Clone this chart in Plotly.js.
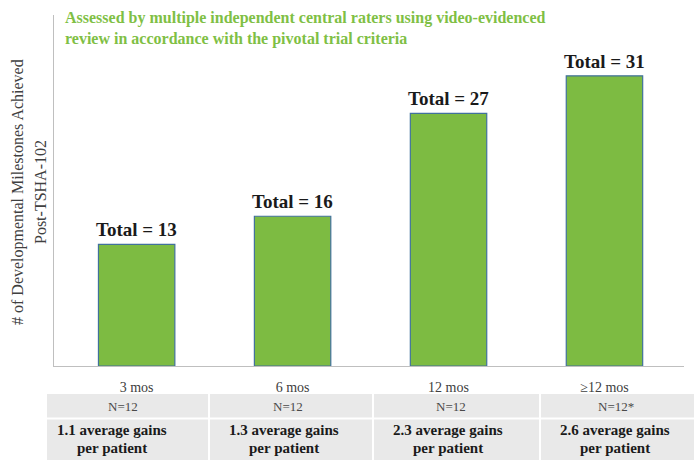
<!DOCTYPE html>
<html>
<head>
<meta charset="utf-8">
<script src="https://cdn.plot.ly/plotly-3.0.1.min.js"></script>
<style>html,body{margin:0;padding:0;background:#fff;}#chart{width:694px;height:460px;}</style>
</head>
<body>
<div id="chart"></div>
<script>
// ---- data ----
const categories = ['3 mos', '6 mos', '12 mos', '≥12 mos'];
const totals = [13, 16, 27, 31];
const nLabels = ['N=12', 'N=12', 'N=12', 'N=12*'];
const avgGains = [1.1, 1.3, 2.3, 2.6];

// ---- layout helpers (pixel geometry of the figure) ----
const W = 694, H = 460;
const M = {l: 54, r: 10, t: 15, b: 94};
const PW = W - M.l - M.r, PH = H - M.t - M.b;
const px = x => (x - M.l) / PW;
const py = y => (H - M.b - y) / PH;

const serif = 'Liberation Serif, Times New Roman, serif';
const green = '#7dbb42';

const trace = {
  type: 'bar',
  x: categories,
  y: totals,
  width: 0.49,
  marker: {color: green, line: {color: '#41719c', width: 1.2}},
  hoverinfo: 'skip'
};

const annotations = [];
categories.forEach((c, i) => {
  annotations.push({
    x: c, y: totals[i], xref: 'x', yref: 'y',
    text: '<b>Total = ' + totals[i] + '</b>',
    showarrow: false, yanchor: 'bottom', yshift: 2,
    font: {family: serif, size: 19, color: '#1a1a1a'}
  });
});

// chart heading
annotations.push({
  xref: 'paper', yref: 'paper', x: px(63), y: py(7),
  xanchor: 'left', yanchor: 'top', align: 'left', showarrow: false,
  text: '<b>Assessed by multiple independent central raters using video-evidenced<br>review in accordance with the pivotal trial criteria</b>',
  font: {family: serif, size: 16, color: '#7fbf45'}
});

// y-axis title (two lines)
const yTitleLines = ['# of Developmental Milestones Achieved', 'Post-TSHA-102'];
const yTitleX = [18, 40];
yTitleLines.forEach((t, k) => {
  annotations.push({
    xref: 'paper', yref: 'paper', x: px(yTitleX[k]), y: py(192),
    xanchor: 'center', yanchor: 'middle', textangle: -90,
    text: t, showarrow: false, font: {family: serif, size: 16, color: '#404040'}
  });
});

// table
const colEdges = [47, 209, 373, 540, 694];
const nCenters = [123, 288, 451, 616];
const gainCenters = [112, 284, 448, 615];
const shapes = [
  {type: 'rect', xref: 'paper', yref: 'paper', x0: px(47), x1: px(700), y0: py(394), y1: py(465),
   fillcolor: '#e9e9e9', line: {width: 0}, layer: 'below'},
  {type: 'line', xref: 'paper', yref: 'paper', x0: px(47), x1: px(700), y0: py(418.5), y1: py(418.5),
   line: {color: '#ffffff', width: 2}}
];
for (let k = 1; k < colEdges.length - 1; k++) {
  shapes.push({type: 'line', xref: 'paper', yref: 'paper', x0: px(colEdges[k]), x1: px(colEdges[k]),
    y0: py(394), y1: py(465), line: {color: '#ffffff', width: 2}});
}
categories.forEach((c, i) => {
  annotations.push({
    xref: 'paper', yref: 'paper', x: px(nCenters[i]), y: py(406.5),
    xanchor: 'center', yanchor: 'middle', showarrow: false,
    text: nLabels[i], font: {family: serif, size: 13, color: '#4a4a4a'}
  });
  annotations.push({
    xref: 'paper', yref: 'paper', x: px(gainCenters[i]), y: py(430),
    xanchor: 'center', yanchor: 'middle', showarrow: false,
    text: '<b>' + avgGains[i].toFixed(1) + ' average gains</b>',
    font: {family: serif, size: 15, color: '#1a1a1a'}
  });
  annotations.push({
    xref: 'paper', yref: 'paper', x: px(gainCenters[i]), y: py(447.5),
    xanchor: 'center', yanchor: 'middle', showarrow: false,
    text: '<b>per patient</b>',
    font: {family: serif, size: 15, color: '#1a1a1a'}
  });
});

const layout = {
  width: W, height: H,
  margin: M,
  paper_bgcolor: '#ffffff', plot_bgcolor: '#ffffff',
  showlegend: false,
  xaxis: {
    type: 'category', range: [-0.53, 3.51],
    showline: true, linecolor: '#bfbfbf', linewidth: 1,
    ticks: 'outside', ticklen: 8, tickcolor: 'rgba(0,0,0,0)',
    showgrid: false, zeroline: false,
    tickfont: {family: serif, size: 14, color: '#404040'}
  },
  yaxis: {
    range: [0, 37.5], showline: true, linecolor: '#bfbfbf', linewidth: 1,
    showticklabels: false, ticks: '', showgrid: false, zeroline: false
  },
  shapes: shapes,
  annotations: annotations
};

Plotly.newPlot('chart', [trace], layout, {displayModeBar: false, staticPlot: true});
</script>
</body>
</html>
